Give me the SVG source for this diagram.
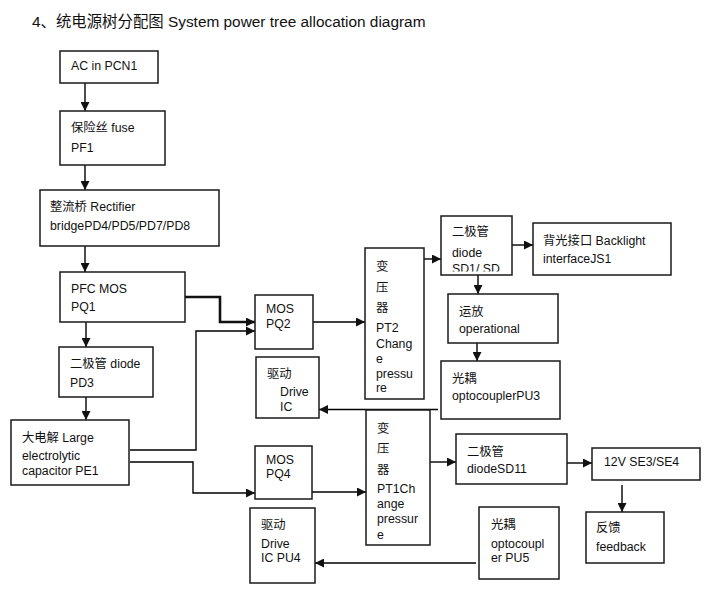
<svg xmlns="http://www.w3.org/2000/svg" width="724" height="607" viewBox="0 0 724 607">
<style>
text{font-family:"Liberation Sans","Noto Sans CJK SC",sans-serif;font-size:12.3px;fill:#111}
.title{font-size:15.4px}
.box{fill:#fff;stroke:#1a1a1a;stroke-width:1.5}
.ln{fill:none;stroke:#000;stroke-width:1.4}
.thick{fill:none;stroke:#111;stroke-width:2.6}
</style>
<defs>
<marker id="ah" markerUnits="userSpaceOnUse" markerWidth="9" markerHeight="9" viewBox="0 0 10 10" refX="10" refY="5" orient="auto"><path d="M0,0 L10,5 L0,10 z" fill="#111"/></marker>
<clipPath id="cSD1"><rect x="441" y="216" width="71" height="55.5"/></clipPath>
</defs>
<rect width="724" height="607" fill="#fff"/>
<text class="title" x="32" y="27">4、统电源树分配图 System power tree allocation diagram</text>
<g id="connectors">
<path class="ln" d="M85,83 V111" marker-end="url(#ah)"/>
<path class="ln" d="M85,165 V190" marker-end="url(#ah)"/>
<path class="ln" d="M85,246 V272" marker-end="url(#ah)"/>
<path class="thick" d="M185,297 H220 V322 H255" marker-end="url(#ah)"/>
<path class="ln" d="M313,322 H365" marker-end="url(#ah)"/>
<path class="ln" d="M86,322 V347" marker-end="url(#ah)"/>
<path class="ln" d="M86,397 V420" marker-end="url(#ah)"/>
<path class="ln" d="M130,450 H196 V331 H255" marker-end="url(#ah)"/>
<path class="ln" d="M130,462 H193 V493 H255" marker-end="url(#ah)"/>
<path class="ln" d="M312,492 H366" marker-end="url(#ah)"/>
<path class="ln" d="M476,563 H315" marker-end="url(#ah)"/>
<path class="ln" d="M424,259 H441" marker-end="url(#ah)"/>
<path class="ln" d="M512,245 H533" marker-end="url(#ah)"/>
<path class="ln" d="M478,275 V294" marker-end="url(#ah)"/>
<path class="ln" d="M477,343 V361" marker-end="url(#ah)"/>
<path class="ln" d="M438,409.5 H319" marker-end="url(#ah)"/>
<path class="ln" d="M430,462 H456" marker-end="url(#ah)"/>
<path class="ln" d="M567,463 H592" marker-end="url(#ah)"/>
<path class="ln" d="M622,485 V512" marker-end="url(#ah)"/>
</g>
<g id="ac"><rect class="box" x="60" y="51" width="98" height="32"/><text x="71" y="70">AC in PCN1</text></g>
<g id="fuse"><rect class="box" x="60" y="111" width="105" height="54"/><text x="71" y="132">保险丝 fuse</text><text x="71" y="152">PF1</text></g>
<g id="rectifier"><rect class="box" x="40" y="190" width="179" height="56"/><text x="50" y="211">整流桥 Rectifier</text><text x="50" y="230">bridgePD4/PD5/PD7/PD8</text></g>
<g id="pfc"><rect class="box" x="60" y="272" width="125" height="50"/><text x="71" y="293">PFC MOS</text><text x="71" y="311">PQ1</text></g>
<g id="pq2"><rect class="box" x="255" y="295" width="58" height="54"/><text x="266" y="313">MOS</text><text x="266" y="328">PQ2</text></g>
<g id="pd3"><rect class="box" x="59" y="347" width="94" height="50"/><text x="70" y="368">二极管 diode</text><text x="70" y="387">PD3</text></g>
<g id="cap"><rect class="box" x="11" y="420" width="118" height="65"/><text x="22" y="442">大电解 Large</text><text x="22" y="460">electrolytic</text><text x="22" y="475">capacitor  PE1</text></g>
<g id="driveic"><rect class="box" x="256" y="357" width="63" height="61"/><text x="267" y="378">驱动</text><text x="280" y="396">Drive</text><text x="280" y="411">IC</text></g>
<g id="pq4"><rect class="box" x="255" y="446" width="57" height="53"/><text x="266" y="464">MOS</text><text x="266" y="478">PQ4</text></g>
<g id="pu4"><rect class="box" x="250" y="508" width="65" height="75"/><text x="261" y="529">驱动</text><text x="261" y="548">Drive</text><text x="261" y="562">IC PU4</text></g>
<g id="pt2"><rect class="box" x="365" y="248" width="59" height="151"/><text x="376" y="271">变</text><text x="376" y="292">压</text><text x="376" y="312">器</text><text x="376" y="332">PT2</text><text x="376" y="348">Chang</text><text x="376" y="363">e</text><text x="376" y="378">pressu</text><text x="376" y="392">re</text></g>
<g id="sd1"><rect class="box" x="441" y="216" width="71" height="59"/><g clip-path="url(#cSD1)"><text x="452" y="236">二极管</text><text x="452" y="257">diode</text><text x="452" y="273">SD1/ SD</text></g></g>
<g id="backlight"><rect class="box" x="533" y="223" width="138" height="52"/><text x="543" y="245">背光接口 Backlight</text><text x="543" y="263">interfaceJS1</text></g>
<g id="op"><rect class="box" x="448" y="294" width="110" height="49"/><text x="459" y="316">运放</text><text x="459" y="333">operational</text></g>
<g id="pu3"><rect class="box" x="441" y="361" width="119" height="58"/><text x="452" y="383">光耦</text><text x="452" y="400">optocouplerPU3</text></g>
<g id="pt1"><rect class="box" x="366" y="410" width="64" height="135"/><text x="377" y="433">变</text><text x="377" y="453">压</text><text x="377" y="474">器</text><text x="377" y="493">PT1Ch</text><text x="377" y="508">ange</text><text x="377" y="523">pressur</text><text x="377" y="539">e</text></g>
<g id="sd11"><rect class="box" x="456" y="434" width="111" height="50"/><text x="467" y="456">二极管</text><text x="467" y="473">diodeSD11</text></g>
<g id="v12"><rect class="box" x="592" y="448" width="108" height="32"/><text x="604" y="466">12V SE3/SE4</text></g>
<g id="feedback"><rect class="box" x="586" y="512" width="78" height="51"/><text x="596" y="532">反馈</text><text x="596" y="551">feedback</text></g>
<g id="pu5"><rect class="box" x="479" y="507" width="80" height="72"/><text x="491" y="529">光耦</text><text x="491" y="548">optocoupl</text><text x="491" y="562">er PU5</text></g>
</svg>
